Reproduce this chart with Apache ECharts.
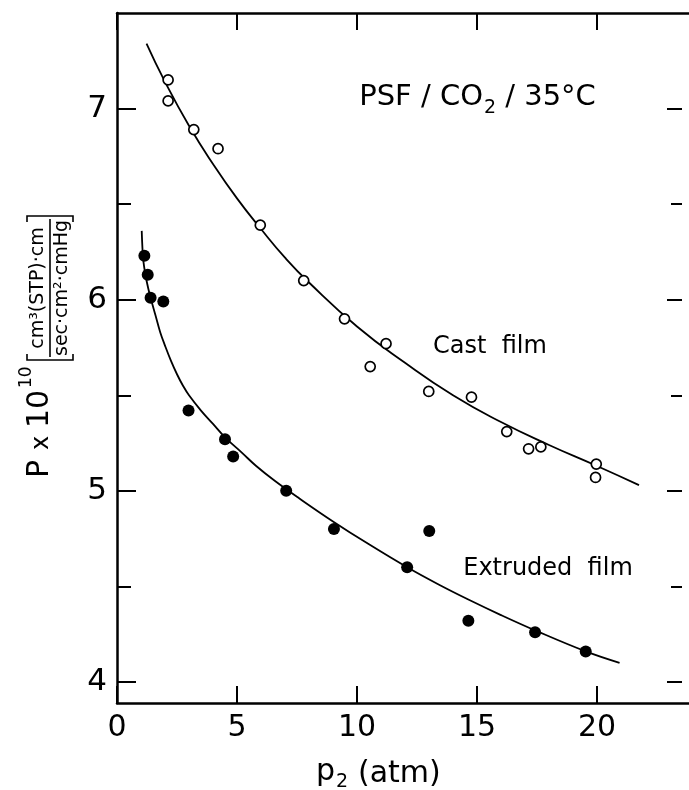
<!DOCTYPE html>
<html><head><meta charset="utf-8">
<script src="https://cdn.jsdelivr.net/npm/echarts@6/dist/echarts.min.js"></script>
<style>html,body{margin:0;padding:0;background:#fff}#c{width:689px;height:790px}</style>
</head><body><div id="c"></div>
<script>
// measured points (p2 in atm, P x 10^10)
const castP    = [2.13, 2.13, 3.20, 4.21, 5.97, 7.78, 9.48, 10.55, 11.21, 12.99, 14.77, 16.24, 17.15, 17.66, 19.97, 19.94];
const castPerm = [7.15, 7.04, 6.89, 6.79, 6.39, 6.10, 5.90, 5.65, 5.77, 5.52, 5.49, 5.31, 5.22, 5.23, 5.14, 5.07];
const extP     = [1.14, 1.28, 1.40, 1.93, 2.98, 4.50, 4.84, 7.05, 9.04, 12.09, 13.01, 14.64, 17.42, 19.53];
const extPerm  = [6.23, 6.13, 6.01, 5.99, 5.42, 5.27, 5.18, 5.00, 4.80, 4.60, 4.79, 4.32, 4.26, 4.16];
// fitted curves
const castCurveP    = [1.23, 2, 3, 4, 5, 6, 7, 8, 10, 12, 14, 16, 18, 20, 21.75];
const castCurvePerm = [7.34, 7.14, 6.91, 6.71, 6.53, 6.37, 6.22, 6.09, 5.86, 5.67, 5.50, 5.36, 5.24, 5.13, 5.03];
const extCurveP     = [1.03, 1.06, 1.10, 1.20, 1.30, 1.40, 1.60, 1.80, 2.00, 2.25, 2.50, 2.75, 3.00, 3.50, 4.00, 4.50, 5.20, 5.80, 6.60, 7.60, 9.00, 10.50, 12.09, 13.40, 14.66, 16.00, 17.42, 19.53, 20.94];
const extCurvePerm  = [6.36, 6.27, 6.20, 6.12, 6.06, 6.01, 5.92, 5.83, 5.76, 5.68, 5.61, 5.55, 5.50, 5.42, 5.35, 5.28, 5.20, 5.13, 5.05, 4.96, 4.84, 4.72, 4.60, 4.51, 4.43, 4.35, 4.27, 4.16, 4.10];
// axes
const xMin = 0, xMax = 24, xInterval = 5;
const yMin = 3.89, yMax = 7.5;
const yTickMin = 4, yTickMax = 7, yTickInterval = 1;
const castLabel = 'Cast  film';
const extLabel = 'Extruded  film';

const FONT = 'DejaVu Sans';
const plotLeft = 117, plotTop = 13, plotBottom = 703, pxPerX = 24.0;
const plotH = plotBottom - plotTop;
const pxY = v => plotTop + (yMax - v) / (yMax - yMin) * plotH;
const tickTop = pxY(yTickMax), tickBot = pxY(yTickMin);

const zip = (a, b) => a.map((v, i) => [v, b[i]]);

const chart = echarts.init(document.getElementById('c'), null, {renderer: 'canvas'});
const black = '#000';
const txt = (text, x, y, size, align) => ({
  type: 'text', x: x, y: y,
  style: {text: text, fontSize: size, fontFamily: FONT, fill: black,
          align: align || 'center', textAlign: align || 'center',
          verticalAlign: 'middle', textVerticalAlign: 'middle'}
});
const curveStyle = {color: black, width: 1.8};

chart.setOption({
  animation: false,
  backgroundColor: '#fff',
  grid: [
    {left: plotLeft, top: plotTop, width: (xMax - xMin) * pxPerX, height: plotH,
     containLabel: false, outerBoundsMode: 'none'},
    {left: plotLeft, top: tickTop, width: 565, height: tickBot - tickTop,
     containLabel: false, outerBoundsMode: 'none'}
  ],
  xAxis: [
    {gridIndex: 0, type: 'value', position: 'bottom', min: xMin, max: xMax, interval: xInterval,
     axisLine: {show: true, lineStyle: {color: black, width: 2.5}},
     axisTick: {show: true, inside: true, length: 17, lineStyle: {color: black, width: 2}},
     axisLabel: {show: true, color: black, fontSize: 30, fontFamily: FONT, margin: 10, showMaxLabel: false,
                 formatter: v => (v % xInterval === 0 ? String(v) : '')},
     splitLine: {show: false}},
    {gridIndex: 0, type: 'value', position: 'top', min: xMin, max: xMax, interval: xInterval,
     axisLine: {show: true, lineStyle: {color: black, width: 2.5}},
     axisTick: {show: true, inside: true, length: 17, lineStyle: {color: black, width: 2}},
     axisLabel: {show: false}, splitLine: {show: false}},
    {gridIndex: 1, type: 'value', show: false, min: xMin, max: xMax}
  ],
  yAxis: [
    {gridIndex: 0, type: 'value', position: 'left', min: yMin, max: yMax,
     axisLine: {show: true, lineStyle: {color: black, width: 2.5}},
     axisTick: {show: false}, axisLabel: {show: false}, splitLine: {show: false}},
    {gridIndex: 1, type: 'value', position: 'left', min: yTickMin, max: yTickMax, interval: yTickInterval,
     axisLine: {show: false},
     axisTick: {show: true, inside: true, length: 19, lineStyle: {color: black, width: 2}},
     minorTick: {show: true, splitNumber: 2, length: 14, lineStyle: {color: black, width: 2}},
     axisLabel: {show: true, color: black, fontSize: 31, fontFamily: FONT, margin: 10},
     splitLine: {show: false}},
    {gridIndex: 1, type: 'value', position: 'right', min: yTickMin, max: yTickMax, interval: yTickInterval,
     axisLine: {show: false},
     axisTick: {show: true, inside: true, length: 15, lineStyle: {color: black, width: 2}},
     minorTick: {show: true, splitNumber: 2, length: 11, lineStyle: {color: black, width: 2}},
     axisLabel: {show: false}, splitLine: {show: false}}
  ],
  series: [
    {type: 'line', xAxisIndex: 0, yAxisIndex: 0, data: zip(castCurveP, castCurvePerm),
     smooth: 0.5, showSymbol: false, symbol: 'none', lineStyle: curveStyle, z: 2},
    {type: 'line', xAxisIndex: 0, yAxisIndex: 0, data: zip(extCurveP, extCurvePerm),
     smooth: 0.4, showSymbol: false, symbol: 'none', lineStyle: curveStyle, z: 2},
    {type: 'scatter', xAxisIndex: 0, yAxisIndex: 0, data: zip(castP, castPerm),
     symbol: 'circle', symbolSize: 10,
     itemStyle: {color: '#fff', borderColor: black, borderWidth: 1.7, opacity: 1}, z: 3},
    {type: 'scatter', xAxisIndex: 0, yAxisIndex: 0, data: zip(extP, extPerm),
     symbol: 'circle', symbolSize: 12,
     itemStyle: {color: black, opacity: 1}, z: 3}
  ],
  graphic: [
    // keep the right frame edge blank, as in the scan
    {type: 'rect', shape: {x: 685, y: 16, width: 6, height: 684}, style: {fill: '#fff'}, z: 100},
    // title: PSF / CO2 / 35°C
    txt('PSF / CO', 483, 97, 29, 'right'),
    txt('2', 484, 108, 19, 'left'),
    txt(' / 35\u00B0C', 496, 97, 29, 'left'),
    txt(castLabel, 490, 347, 24),
    txt(extLabel, 548, 569, 24),
    // x-axis title
    txt('p', 316, 772, 30, 'left'),
    txt('2', 336, 782, 19, 'left'),
    txt('(atm)', 358, 774, 30, 'left'),
    // y-axis title, rotated
    {type: 'group', x: 50, y: 478, rotation: Math.PI / 2, children: [
      txt('P', 0, -10, 30, 'left'),
      txt('x', 28, -8, 24, 'left'),
      txt('10', 50, -10, 30, 'left'),
      txt('10', 90, -23, 17, 'left'),
      {type: 'polyline', shape: {points: [[124, -23], [118, -23], [118, 23], [124, 23]]},
       style: {stroke: black, lineWidth: 1.6, fill: null}},
      txt('cm\u00B3(STP)\u00B7cm', 190, -12, 19),
      {type: 'line', shape: {x1: 121, y1: 0, x2: 259, y2: 0}, style: {stroke: black, lineWidth: 1.6}},
      txt('sec\u00B7cm\u00B2\u00B7cmHg', 190, 12, 19),
      {type: 'polyline', shape: {points: [[256, -23], [262, -23], [262, 23], [256, 23]]},
       style: {stroke: black, lineWidth: 1.6, fill: null}}
    ]}
  ]
});
</script></body></html>
